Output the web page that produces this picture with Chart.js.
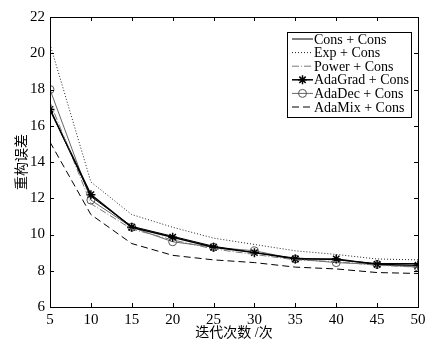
<!DOCTYPE html>
<html lang="zh">
<head>
<meta charset="UTF-8">
<title>重构误差</title>
<style>
  html, body { margin: 0; padding: 0; background: #fff; }
  canvas { display: block; }
</style>
<script src="https://cdn.jsdelivr.net/npm/chart.js"></script>
</head>
<body>
<canvas id="chart" width="443" height="348"></canvas>
<script>
    // 数据
    const iterations = [5, 10, 15, 20, 25, 30, 35, 40, 45, 50];
    const consCons    = [16.9, 12.1, 10.45, 9.9, 9.35, 9.0, 8.7, 8.6, 8.4, 8.4];
    const expCons     = [20.5, 12.9, 11.1, 10.4, 9.8, 9.45, 9.1, 8.9, 8.65, 8.6];
    const powerCons   = [17.3, 11.7, 10.3, 9.7, 9.2, 8.9, 8.6, 8.5, 8.3, 8.2];
    const adaGradCons = [16.9, 12.2, 10.4, 9.85, 9.3, 9.0, 8.65, 8.65, 8.35, 8.3];
    const adaDecCons  = [18.0, 11.9, 10.4, 9.6, 9.3, 9.1, 8.65, 8.45, 8.35, 8.2];
    const adaMixCons  = [15.1, 11.1, 9.5, 8.85, 8.6, 8.45, 8.2, 8.1, 7.9, 7.85];
    const yTicks = [6, 8, 10, 12, 14, 16, 18, 20, 22];
    const xTicks = [5, 10, 15, 20, 25, 30, 35, 40, 45, 50];

    const FONT = '"Liberation Serif", "Noto Sans CJK SC", serif';

    function toPoints(arr) {
        return arr.map((v, i) => ({ x: iterations[i], y: v }));
    }

    const datasets = [
        { label: 'Cons + Cons', data: toPoints(consCons), borderColor: '#000', borderWidth: 1, pointRadius: 0 },
        { label: 'Exp + Cons', data: toPoints(expCons), borderColor: '#222', borderWidth: 1, borderDash: [1, 2], pointRadius: 0 },
        { label: 'Power + Cons', data: toPoints(powerCons), borderColor: '#777', borderWidth: 1, borderDash: [7, 2, 1, 2], pointRadius: 0 },
        { label: 'AdaGrad + Cons', data: toPoints(adaGradCons), borderColor: '#000', borderWidth: 1.5,
          pointStyle: 'star', pointRadius: 4.5, pointBorderWidth: 1.5, pointBorderColor: '#000', pointBackgroundColor: '#000' },
        { label: 'AdaDec + Cons', data: toPoints(adaDecCons), borderColor: '#666', borderWidth: 1,
          pointStyle: 'circle', pointRadius: 4, pointBorderWidth: 1, pointBorderColor: '#555', pointBackgroundColor: 'rgba(0,0,0,0)' },
        { label: 'AdaMix + Cons', data: toPoints(adaMixCons), borderColor: '#000', borderWidth: 1, borderDash: [7, 4], pointRadius: 0 }
    ];
    datasets.forEach(d => { d.fill = false; d.tension = 0; });

    // 画框、内向刻度、坐标轴标题和图例
    const matlabFrame = {
        id: 'matlabFrame',
        afterDatasetsDraw(chart) {
            const ctx = chart.ctx;
            const a = chart.chartArea;
            const xs = chart.scales.x, ys = chart.scales.y;
            ctx.save();
            ctx.strokeStyle = '#000';
            ctx.lineWidth = 1;
            ctx.setLineDash([]);
            ctx.strokeRect(a.left + 0.5, a.top + 0.5, a.right - a.left, a.bottom - a.top);
            ctx.beginPath();
            xTicks.forEach(t => {
                const px = Math.round(xs.getPixelForValue(t)) + 0.5;
                ctx.moveTo(px, a.bottom); ctx.lineTo(px, a.bottom - 4);
                ctx.moveTo(px, a.top); ctx.lineTo(px, a.top + 4);
            });
            yTicks.forEach(t => {
                const py = Math.round(ys.getPixelForValue(t)) + 0.5;
                ctx.moveTo(a.left, py); ctx.lineTo(a.left + 4, py);
                ctx.moveTo(a.right, py); ctx.lineTo(a.right - 4, py);
            });
            ctx.stroke();

            // 坐标轴标题
            ctx.fillStyle = '#000';
            ctx.font = '14px ' + FONT;
            ctx.textAlign = 'center';
            ctx.textBaseline = 'middle';
            ctx.fillText('迭代次数 /次', (a.left + a.right) / 2, 333);
            ctx.save();
            ctx.translate(22, (a.top + a.bottom) / 2);
            ctx.rotate(-Math.PI / 2);
            ctx.fillText('重构误差', 0, 0);
            ctx.restore();

            // 图例
            const bx = 287, by = 32, bw = 124, bh = 85;
            ctx.fillStyle = '#fff';
            ctx.fillRect(bx, by, bw, bh);
            ctx.strokeRect(bx + 0.5, by + 0.5, bw, bh);
            ctx.font = '14px ' + FONT;
            ctx.textAlign = 'left';
            chart.data.datasets.forEach((d, i) => {
                const y = by + 7 + i * 13.6;
                ctx.strokeStyle = d.borderColor;
                ctx.lineWidth = d.borderWidth;
                ctx.setLineDash(d.borderDash || []);
                ctx.beginPath();
                ctx.moveTo(292, y); ctx.lineTo(313, y);
                ctx.stroke();
                ctx.setLineDash([]);
                if (d.pointRadius > 0) {
                    ctx.strokeStyle = d.pointBorderColor;
                    ctx.fillStyle = d.pointBackgroundColor;
                    ctx.lineWidth = d.pointBorderWidth;
                    Chart.helpers.drawPoint(ctx, { pointStyle: d.pointStyle, radius: d.pointRadius, rotation: 0, borderWidth: d.pointBorderWidth }, 302.5, y);
                }
                ctx.fillStyle = '#000';
                ctx.fillText(d.label, 314, y + 1);
            });
            ctx.restore();
        }
    };

    new Chart(document.getElementById('chart').getContext('2d'), {
        type: 'line',
        data: { datasets: datasets },
        options: {
            responsive: false,
            animation: false,
            devicePixelRatio: 1,
            layout: { padding: { top: 17, right: 25, left: 0, bottom: 0 } },
            plugins: { legend: { display: false }, tooltip: { enabled: false } },
            scales: {
                x: {
                    type: 'linear', min: 5, max: 50,
                    afterFit: s => { s.height = 41; },
                    afterBuildTicks: s => { s.ticks = xTicks.map(v => ({ value: v })); },
                    grid: { display: false, drawTicks: false },
                    border: { display: false },
                    ticks: { color: '#000', padding: 4, maxRotation: 0, font: { family: FONT, size: 15 } }
                },
                y: {
                    min: 6, max: 22,
                    afterFit: s => { s.width = 50; },
                    afterBuildTicks: s => { s.ticks = yTicks.map(v => ({ value: v })); },
                    grid: { display: false, drawTicks: false },
                    border: { display: false },
                    ticks: { color: '#000', padding: 5, font: { family: FONT, size: 15 } }
                }
            }
        },
        plugins: [matlabFrame]
    });
</script>
</body>
</html>
